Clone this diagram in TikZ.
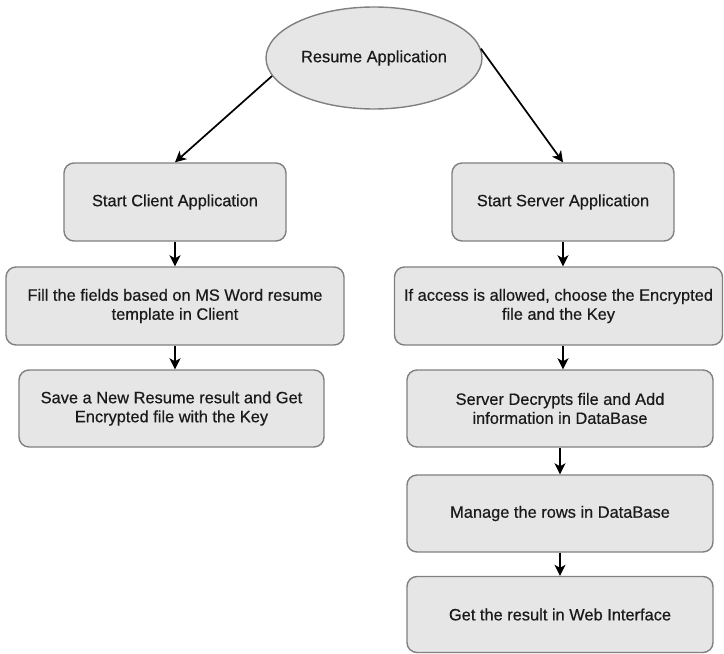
\documentclass[tikz,border=0pt]{standalone}
\usepackage{fontspec}
\setmainfont{Liberation Sans}[UprightFeatures={FakeBold=0.5}]
\usetikzlibrary{shapes.geometric,arrows.meta}
\definecolor{boxfill}{HTML}{E6E6E6}
\definecolor{boxline}{HTML}{808080}
\definecolor{txt}{HTML}{1A1A1A}
\tikzset{
  every node/.style={font=\fontsize{16.4bp}{19bp}\selectfont, text=txt},
  stepbox/.style={draw=boxline, fill=boxfill, line width=1.4bp, rounded corners=10bp,
    align=center, inner sep=0pt},
  startshape/.style={ellipse, draw=boxline, fill=boxfill, line width=1.4bp, inner sep=0pt,
    minimum width=216bp, minimum height=102bp},
  flow/.style={draw=black, line width=1.7bp, -{Stealth[length=11bp,width=11bp,inset=3bp]}}
}
\begin{document}
\begin{tikzpicture}[x=1bp,y=-1bp]
  \useasboundingbox (0,0) rectangle (724,654);

  % start of the application
  \node[startshape] (app) at (374,58) {Resume Application};

  % client branch
  \node[stepbox, minimum width=222bp, minimum height=78bp] (client) at (175,202) {Start Client Application};
  \node[stepbox, minimum width=338bp, minimum height=78bp] (fill) at (175,306)
    {Fill the fields based on MS Word resume\\template in Client};
  \node[stepbox, minimum width=305bp, minimum height=77bp] (save) at (171.5,408.5)
    {Save a New Resume result and Get\\Encrypted file with the Key};

  % server branch
  \node[stepbox, minimum width=222bp, minimum height=78bp] (server) at (563,202) {Start Server Application};
  \node[stepbox, minimum width=328bp, minimum height=78bp] (access) at (558.5,306)
    {If access is allowed, choose the Encrypted\\file and the Key};
  \node[stepbox, minimum width=306bp, minimum height=77bp] (decrypt) at (560,408.5)
    {Server Decrypts file and Add\\information in DataBase};
  \node[stepbox, minimum width=306bp, minimum height=77bp] (manage) at (560,513.5)
    {Manage the rows in DataBase};
  \node[stepbox, minimum width=306bp, minimum height=76bp] (web) at (560,614.5)
    {Get the result in Web Interface};

  % connectors
  \draw[flow] (app.190) -- (client.north);
  \draw[flow] (app.5) -- (server.north);
  \draw[flow] (client.south) -- (fill.north);
  \draw[flow] (fill.south) -- (save.north -| fill.south);
  \draw[flow] (server.south) -- (access.north -| server.south);
  \draw[flow] (access.south -| server.south) -- (decrypt.north -| server.south);
  \draw[flow] (decrypt.south) -- (manage.north);
  \draw[flow] (manage.south) -- (web.north);
\end{tikzpicture}
\end{document}
